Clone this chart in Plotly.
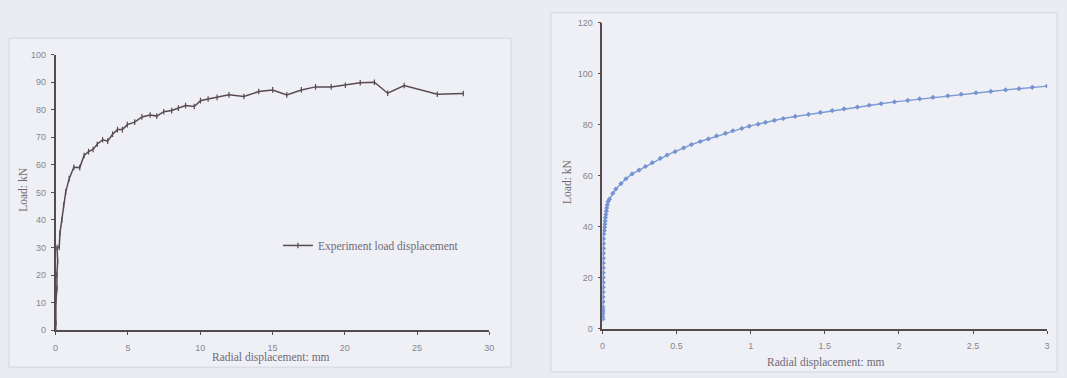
import plotly.graph_objects as go

# Experimental load-displacement record
exp_disp = [0, 0.02, 0.02, 0.09, 0.09, 0.14, 0.10, 0.25, 0.30, 0.43, 0.55, 0.70, 0.94,
            1.26, 1.67, 1.97, 2.28, 2.59, 2.88, 3.25, 3.60, 3.94, 4.28, 4.62, 4.96,
            5.47, 5.97, 6.54, 7.00, 7.48, 8.03, 8.49, 8.99, 9.59, 10.02, 10.55, 11.17,
            11.99, 13.02, 14.05, 15.01, 15.99, 17.00, 17.98, 19.06, 20.04, 21.07, 22.05,
            22.97, 24.11, 26.40, 28.20]
exp_load = [0, 2.5, 10.2, 15.1, 20.2, 25.0, 30.0, 30.0, 35.2, 40.0, 45.3, 50.2, 55.0,
            59.1, 59.0, 63.4, 64.8, 65.6, 67.5, 69.1, 68.6, 71.1, 72.8, 72.8, 74.6,
            75.5, 77.4, 78.1, 77.7, 79.3, 79.7, 80.6, 81.5, 81.2, 83.3, 83.9, 84.5,
            85.4, 84.8, 86.6, 87.2, 85.4, 87.2, 88.3, 88.3, 88.9, 89.8, 90.0,
            86.0, 88.8, 85.6, 85.9]

# Numerical load-displacement response
fe_disp = [0.002, 0.002, 0.002, 0.002, 0.003, 0.003, 0.004, 0.004, 0.004, 0.005,
           0.005, 0.005, 0.005, 0.006, 0.006, 0.006, 0.006, 0.007, 0.007, 0.007,
           0.008, 0.012, 0.014, 0.016, 0.018, 0.020, 0.023, 0.026, 0.029, 0.033,
           0.038, 0.047, 0.070, 0.090, 0.125, 0.158, 0.200, 0.247, 0.290, 0.336,
           0.390, 0.436, 0.490, 0.548, 0.600, 0.660, 0.715, 0.770, 0.830, 0.880,
           0.940, 0.990, 1.050, 1.100, 1.160, 1.220, 1.300, 1.390, 1.470, 1.550,
           1.630, 1.720, 1.800, 1.880, 1.970, 2.060, 2.140, 2.230, 2.330, 2.420,
           2.520, 2.620, 2.720, 2.810, 2.900, 3.000]
fe_load = [3.8, 4.8, 5.9, 6.7, 7.6, 8.6, 10.6, 12.5, 14.4, 16.3,
           18.2, 20.1, 22.0, 23.9, 25.8, 27.7, 29.6, 31.5, 33.4, 35.3,
           37.2, 38.5, 39.8, 41.0, 42.3, 43.6, 44.8, 46.1, 47.4, 48.6,
           49.9, 50.8, 53.1, 54.8, 56.9, 58.8, 60.7, 62.2, 63.6, 65.1,
           66.8, 68.1, 69.4, 70.9, 72.2, 73.4, 74.4, 75.6, 76.6, 77.6,
           78.5, 79.4, 80.2, 80.9, 81.7, 82.4, 83.2, 84.0, 84.8, 85.5,
           86.2, 86.9, 87.6, 88.2, 88.9, 89.5, 90.1, 90.7, 91.3, 91.9,
           92.5, 93.0, 93.6, 94.1, 94.6, 95.1]

left_xticks = [0, 5, 10, 15, 20, 25, 30]
left_yticks = [0, 10, 20, 30, 40, 50, 60, 70, 80, 90, 100]
right_xticks = [0, 0.5, 1, 1.5, 2, 2.5, 3]
right_yticks = [0, 20, 40, 60, 80, 100, 120]

W, H = 1067, 378
AXIS = "#554a4c"
TICKFONT = dict(family="Liberation Sans, Arial, sans-serif", size=9, color="#86868c")
SERIF = "Liberation Serif, Times New Roman, serif"
TITLE_COLOR = "#6e6a76"

fig = go.Figure()

fig.add_trace(go.Scatter(
    x=exp_disp, y=exp_load, mode="lines+markers",
    name="Experiment load displacement",
    line=dict(color="#5a4a50", width=1.5),
    marker=dict(symbol="line-ns", size=4, line=dict(color="#5a4a50", width=1.2)),
    xaxis="x", yaxis="y", showlegend=True,
))
fig.add_trace(go.Scatter(
    x=fe_disp, y=fe_load, mode="lines+markers",
    name="FE",
    line=dict(color="#7f9bd6", width=1.4),
    marker=dict(symbol="diamond", size=4, color="#7592d2"),
    xaxis="x2", yaxis="y2", showlegend=False,
))

def px_x(p):
    return p / W

def px_y(p):
    return 1 - p / H

axis_common = dict(
    showgrid=False, zeroline=False, showline=True, linecolor=AXIS, linewidth=1.6,
    ticks="outside", ticklen=3, tickcolor=AXIS, tickwidth=1, tickfont=TICKFONT,
    fixedrange=True,
)

fig.update_layout(
    width=W, height=H,
    margin=dict(l=0, r=0, t=0, b=0),
    paper_bgcolor="#e9ecf1",
    plot_bgcolor="rgba(0,0,0,0)",
    xaxis=dict(domain=[px_x(53), px_x(490)], range=[0, 30], tickvals=left_xticks,
               anchor="y", ticklabelstandoff=5, **axis_common),
    yaxis=dict(domain=[px_y(334), px_y(51)], range=[0, 100], tickvals=left_yticks,
               anchor="x", ticklabelstandoff=3, **axis_common),
    xaxis2=dict(domain=[px_x(604), px_x(1052)], range=[0, 3], tickvals=right_xticks,
                anchor="y2", ticklabelstandoff=5, **axis_common),
    yaxis2=dict(domain=[px_y(332.7), px_y(18)], range=[0, 120], tickvals=right_yticks,
                anchor="x2", ticklabelstandoff=3, **axis_common),
    legend=dict(x=px_x(277), y=px_y(247), xanchor="left", yanchor="middle",
                bgcolor="rgba(0,0,0,0)", itemwidth=30,
                font=dict(family=SERIF, size=11.5, color=TITLE_COLOR)),
    shapes=[
        dict(type="rect", xref="paper", yref="paper", layer="below",
             x0=px_x(6), x1=px_x(512), y0=px_y(372), y1=px_y(34),
             fillcolor="#eef0f5", line=dict(color="#d3d6dc", width=1)),
        dict(type="rect", xref="paper", yref="paper", layer="below",
             x0=px_x(552), x1=px_x(1062), y0=px_y(377), y1=px_y(8),
             fillcolor="#eef0f5", line=dict(color="#d3d6dc", width=1)),
    ],
    annotations=[
        dict(text="Radial displacement: mm", xref="paper", yref="paper",
             x=px_x(270), y=px_y(362), xanchor="center", yanchor="middle",
             showarrow=False, font=dict(family=SERIF, size=11.5, color=TITLE_COLOR)),
        dict(text="Load: kN", xref="paper", yref="paper", textangle=-90,
             x=px_x(20), y=px_y(190), xanchor="center", yanchor="middle",
             showarrow=False, font=dict(family=SERIF, size=11.5, color=TITLE_COLOR)),
        dict(text="Radial displacement: mm", xref="paper", yref="paper",
             x=px_x(829), y=px_y(367), xanchor="center", yanchor="middle",
             showarrow=False, font=dict(family=SERIF, size=11.5, color=TITLE_COLOR)),
        dict(text="Load: kN", xref="paper", yref="paper", textangle=-90,
             x=px_x(568), y=px_y(182), xanchor="center", yanchor="middle",
             showarrow=False, font=dict(family=SERIF, size=11.5, color=TITLE_COLOR)),
    ],
)

fig.write_html("out.html")
